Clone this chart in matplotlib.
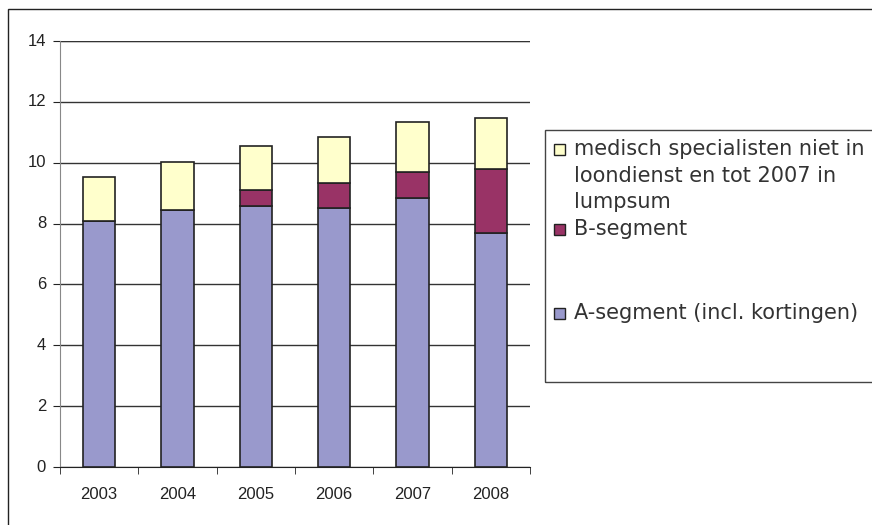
import matplotlib
matplotlib.use("Agg")
import matplotlib.pyplot as plt
from matplotlib.patches import Rectangle
import numpy as np

years = ["2003", "2004", "2005", "2006", "2007", "2008"]
a_segment = [8.08, 8.46, 8.57, 8.52, 8.85, 7.69]
b_segment = [0.0, 0.0, 0.54, 0.80, 0.85, 2.11]
medisch = [1.46, 1.57, 1.45, 1.51, 1.63, 1.68]
labels = ["medisch specialisten niet in\nloondienst en tot 2007 in\nlumpsum",
          "B-segment", "A-segment (incl. kortingen)"]
colors = ["#FFFFCC", "#993366", "#9999CC"]

fig = plt.figure(figsize=(8.72, 5.25), dpi=100)
W, H = 872, 525
ax = fig.add_axes([60 / W, 1 - 467 / H, 470 / W, 426 / H])

x = np.arange(len(years))
a = np.array(a_segment)
b = np.array(b_segment)
m = np.array(medisch)
bw = 0.41
ax.bar(x, a, bw, color=colors[2], edgecolor="#222222", linewidth=1.2, zorder=3)
ax.bar(x, b, bw, bottom=a, color=colors[1], edgecolor="#222222", linewidth=1.2, zorder=3)
ax.bar(x, m, bw, bottom=a + b, color=colors[0], edgecolor="#222222", linewidth=1.2, zorder=3)

ax.set_xlim(-0.5, len(years) - 0.5)
ax.set_ylim(0, 14)
ax.set_yticks(range(0, 15, 2))
ax.set_xticks(x)
ax.set_xticklabels(years)
ax.set_xticks(np.arange(-0.5, len(years), 1.0), minor=True)
ax.tick_params(axis="x", which="major", length=0, pad=20)
ax.tick_params(axis="x", which="minor", length=5, color="#222222", direction="out")
ax.tick_params(axis="y", length=5, color="#222222", direction="out", pad=5)
for lab in ax.get_xticklabels() + ax.get_yticklabels():
    lab.set_fontfamily("Liberation Sans")
    lab.set_fontsize(12)
    lab.set_color("#222222")
for lab in ax.get_xticklabels():
    lab.set_verticalalignment("center")
for lab in ax.get_yticklabels():
    lab.set_verticalalignment("center")
ax.grid(axis="y", color="#333333", linewidth=1.0, zorder=0)
ax.spines["top"].set_visible(False)
ax.spines["right"].set_visible(False)
ax.spines["left"].set_color("#888888")
ax.spines["bottom"].set_color("#222222")
ax.axhline(14, color="#999999", linewidth=1.0, zorder=1)

# outer chart frame
fig.patches.append(Rectangle((8 / W, -0.01), 1.0, 1 - 9 / H + 0.01,
                             transform=fig.transFigure, fill=False,
                             edgecolor="#222222", linewidth=1.0))
# legend frame
lx0, ly_top, ly_bot = 545, 130, 382
fig.patches.append(Rectangle((lx0 / W, 1 - ly_bot / H), 1.0, (ly_bot - ly_top) / H,
                             transform=fig.transFigure, fill=False,
                             edgecolor="#444444", linewidth=1.0))
entry_y = [149, 229, 313]
line_h = 26.5
for lab, col, ey in zip(labels, colors, entry_y):
    fig.patches.append(Rectangle((554 / W, 1 - (ey + 5.5) / H), 11 / W, 11 / H,
                                 transform=fig.transFigure, facecolor=col,
                                 edgecolor="#222222", linewidth=1.0))
    for i, line in enumerate(lab.split("\n")):
        fig.text(574 / W, 1 - (ey + i * line_h) / H, line, fontsize=15,
                 family="DejaVu Sans", va="center", ha="left", color="#333333")

fig.savefig("out.png", dpi=100)
